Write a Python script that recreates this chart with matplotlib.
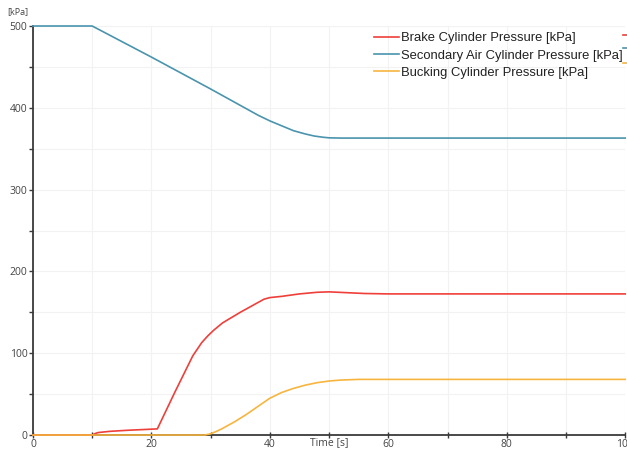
import numpy as np
import matplotlib
matplotlib.use("Agg")
import matplotlib.pyplot as plt
from matplotlib.lines import Line2D

# Pressure traces [kPa] over time [s]
brake_t = [0, 10, 10.5, 11, 13, 16, 19, 21, 24, 27, 28.5, 29.5, 30.5, 32, 35, 38, 39, 40, 42, 45, 48, 50, 53, 56, 60, 100]
brake_p = [0, 0, 1.8, 3, 4.5, 5.8, 6.8, 7.5, 53, 97, 113, 121, 128, 137, 150, 162, 166, 168, 169.5, 172.5, 174.5, 175, 174, 173, 172.5, 172.5]

air_t = [0, 10, 20, 30, 36, 38, 40, 42, 44, 46, 47.5, 49, 50, 52, 55, 100]
air_p = [500, 500, 462, 423, 399, 391, 384, 378, 372, 368, 365.5, 364, 363.3, 363, 363, 363]

buck_t = [0, 29, 30, 31, 32, 34, 36, 38, 40, 42, 44, 46, 48, 50, 52, 55, 60, 100]
buck_p = [0, 0, 1.5, 4.5, 8, 16, 25, 35, 45, 52, 57, 61, 64, 66, 67.2, 68, 68, 68]

labels = ["Brake Cylinder Pressure [kPa]",
          "Secondary Air Cylinder Pressure [kPa]",
          "Bucking Cylinder Pressure [kPa]"]
colors = ["#ef3f3a", "#4a94ad", "#f7b53f"]

plt.rcParams["font.family"] = ["Open Sans", "DejaVu Sans"]

fig = plt.figure(figsize=(6.27, 4.5), dpi=100)
ax = fig.add_axes([0.0526, 0.0333, 0.9445, 0.9089])

ax.plot(brake_t, brake_p, color=colors[0], lw=1.2, label=labels[0], clip_on=False, zorder=4)
ax.plot(air_t, air_p, color=colors[1], lw=1.2, label=labels[1], clip_on=False, zorder=4)
ax.plot(buck_t, buck_p, color=colors[2], lw=1.2, label=labels[2], clip_on=False, zorder=5)

ax.set_xlim(0, 100)
ax.set_ylim(0, 500)
ax.set_xticks(np.arange(0, 101, 20))
ax.set_xticks(np.arange(10, 100, 20), minor=True)
ax.set_yticks(np.arange(0, 501, 100))
ax.set_yticks(np.arange(50, 500, 100), minor=True)
ax.grid(True, which="both", color="#f2f2f2", lw=0.8)
ax.set_axisbelow(True)

for side in ["top", "right"]:
    ax.spines[side].set_visible(False)
for side in ["left", "bottom"]:
    ax.spines[side].set_color("#3a3a3a")
    ax.spines[side].set_linewidth(1.3)

ax.tick_params(axis="both", which="both", colors="#3a3a3a", labelcolor="#444444",
               labelsize=7.5, width=1)
ax.tick_params(axis="x", which="both", direction="inout", length=4, pad=1)
ax.tick_params(axis="y", which="both", direction="out", length=3, pad=1)

ax.text(0.5, -0.006, "Time [s]", transform=ax.transAxes, ha="center", va="top",
        fontsize=7.5, color="#444444")
fig.text(0.012, 0.975, "[kPa]", ha="left", va="center", fontsize=6.5, color="#444444")

leg = ax.legend(loc="upper left", bbox_to_anchor=(0.567, 0.998), frameon=False,
                prop={"family": "Liberation Sans", "size": 9.4},
                handlelength=1.95, handletextpad=0.15,
                labelspacing=0.4, borderaxespad=0)
for txt in leg.get_texts():
    txt.set_color("#222222")

# small series markers at the right edge
for c, y in zip(colors, [0.922, 0.893, 0.860]):
    fig.add_artist(Line2D([0.993, 1.0], [y, y], color=c, lw=1.2, transform=fig.transFigure))

fig.savefig("out.png", dpi=100)
